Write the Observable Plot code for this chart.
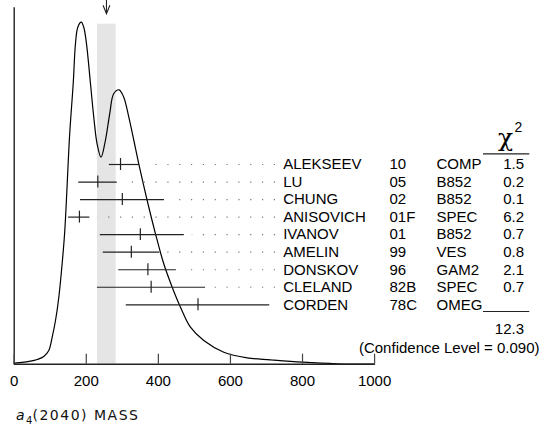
<!DOCTYPE html>
<html>
<head>
<meta charset="utf-8">
<script src="https://cdn.jsdelivr.net/npm/d3@7"></script>
<script src="https://cdn.jsdelivr.net/npm/@observablehq/plot@0.6"></script>
<style>
  body { margin: 0; background: #fff; }
  #wrap { position: relative; width: 546px; height: 429px; background: #fff; }
  #wrap svg { position: absolute; left: 0; top: 0; }
  #title { position: absolute; left: 16px; top: 407px; font-family: "DejaVu Sans", sans-serif;
           font-size: 14px; letter-spacing: 1.5px; color: #111; white-space: nowrap; line-height: 16px; }
  #title sub { font-size: 10px; vertical-align: -0.35em; line-height: 0; letter-spacing: 0; }
</style>
</head>
<body>
<div id="wrap"><div id="title"><i>a</i><sub>4</sub>(2040) MASS</div></div>
<script>
// ---------------- data ----------------
// ideogram curve (mass value, height in arbitrary units)
const curveMass    = [0, 45, 64, 82, 96, 105.4, 114.6, 123.8, 133, 140.4, 154, 163.7, 170, 176.5, 186, 193, 200.6, 211.7, 220.8, 230, 241, 253, 265, 276, 291, 304, 318, 332, 345.6, 369, 392, 415, 438.4, 461.4, 489, 526, 581.6, 646.5, 711, 800, 896, 1000];
const curveDensity = [1, 3, 4.7, 7.7, 13.7, 27, 43.7, 67, 100.4, 133.7, 230.4, 280.4, 320.4, 337, 342, 337, 320.4, 280.4, 247, 220.4, 207, 223.7, 250.4, 270.4, 274.4, 267, 247, 223.7, 200.4, 163.7, 130.4, 100.4, 77, 57, 37, 23.7, 12, 6.4, 4.4, 2, 0.4, 0];

// measurements
const names   = ["ALEKSEEV", "LU", "CHUNG", "ANISOVICH", "IVANOV", "AMELIN", "DONSKOV", "CLELAND", "CORDEN"];
const years   = ["10", "05", "02", "01F", "01", "99", "96", "82B", "78C"];
const methods = ["COMP", "B852", "B852", "SPEC", "B852", "VES", "GAM2", "SPEC", "OMEG"];
const values  = [295, 232, 300, 181, 350, 325, 371, 380, 510];
const errLo   = [264, 179, 184, 151, 239, 247, 290, 231, 311];
const errHi   = [348, 286, 417, 210, 472, 404, 450, 531, 709];
const chi2    = ["1.5", "0.2", "0.1", "6.2", "0.7", "0.8", "2.1", "0.7", ""];
const chi2Total = "12.3";
const confidenceLevel = "0.090";

// fitted value and its error band
const fitMass = 256, fitLo = 231, fitHi = 283;

// axis ticks
const xTicks = [0, 200, 400, 600, 800, 1000];

// ---------------- layout ----------------
const W = 546, H = 395, ML = 13.7, MR = 171.9, MB = 31.3;
const xDomain = [0, 1000];
const yTop = H - MB; // y units = pixels above the baseline
const baseStyle = { fontFamily: "'Liberation Sans', Arial, sans-serif", fontSize: "15px",
                    background: "transparent", overflow: "visible", color: "#000" };
const common = { width: W, height: H, marginLeft: ML, marginRight: MR, marginTop: 0, marginBottom: MB,
                 x: { domain: xDomain, axis: null }, style: baseStyle };
const xs = Plot.scale({ x: { domain: xDomain, range: [ML, W - MR] } });
const px = p => xs.invert(p);

const curve = curveMass.map((m, i) => ({ m, d: curveDensity[i] }));
const fit = [{ mass: fitMass, lo: fitLo, hi: fitHi }];
const bandTop = d3.max(curveDensity) - 2;

// open "V" arrowhead symbol (tip at the origin)
const vHead = { draw(ctx) { ctx.moveTo(-3.4, -8.5); ctx.lineTo(0, 0); ctx.lineTo(3.4, -8.5); } };

const p1 = Plot.plot({
  ...common,
  y: { domain: [0, yTop], axis: null },
  marks: [
    Plot.rect(fit, { x1: "lo", x2: "hi", y1: 0, y2: bandTop, fill: "#e5e5e5" }),
    Plot.line(curve, { x: "m", y: "d", curve: "catmull-rom", stroke: "#000", strokeWidth: 1.2 }),
    Plot.ruleX([0], { y1: 0, y2: yTop - 7.3, stroke: "#222", strokeWidth: 1.4 }),
    Plot.ruleY([0], { x1: 0, x2: 1000, stroke: "#222", strokeWidth: 1.4 }),
    Plot.ruleX(xTicks, { y1: 0, y2: 10, stroke: "#444", strokeWidth: 1.2 }),
    Plot.text(xTicks, { x: d => d, y: 0, dy: 16.5, text: d => String(d), fill: "#000" }),
    // fitted-value arrow at the top
    Plot.ruleX(fit, { x: "mass", y1: yTop, y2: yTop - 13.3, stroke: "#222", strokeWidth: 1.1 }),
    Plot.dot(fit, { x: "mass", y: yTop - 13.3, symbol: vHead, fill: "none", stroke: "#222", strokeWidth: 1.1 })
  ]
});

const rows = names.map((name, i) => ({ i, name, year: years[i], method: methods[i],
  value: values[i], lo: errLo[i], hi: errHi[i], chi: chi2[i] }));
const dotEnd = px(275);
const gapPx = 8;
const dotted = rows.filter(d => xs.apply(d.hi) + gapPx < 275);
const last = names.length - 1;

const p2 = Plot.plot({
  ...common,
  y: { domain: [0, last], range: [164, 304.3], axis: null },
  marks: [
    Plot.ruleY(dotted, { y: "i", x1: dotEnd, x2: d => px(xs.apply(d.hi) + gapPx),
                         stroke: "#777", strokeWidth: 1.2, strokeDasharray: "1.2,10.63" }),
    Plot.ruleY(rows, { y: "i", x1: "lo", x2: "hi", stroke: "#222", strokeWidth: 1.2 }),
    Plot.ruleX(rows, { x: "value", y1: d => d.i - 0.34, y2: d => d.i + 0.34, stroke: "#222", strokeWidth: 1.2 }),
    Plot.text(rows, { y: "i", frameAnchor: "left", dx: 269, text: "name", textAnchor: "start" }),
    Plot.text(rows, { y: "i", frameAnchor: "left", dx: 375.3, text: "year", textAnchor: "start" }),
    Plot.text(rows, { y: "i", frameAnchor: "left", dx: 422.3, text: "method", textAnchor: "start" }),
    Plot.text(rows, { y: "i", frameAnchor: "left", dx: 509.8, text: "chi", textAnchor: "end" }),
    // chi-squared header
    Plot.text(["χ"], { y: 0, frameAnchor: "left", dx: 491.3, dy: -19, lineAnchor: "bottom",
                       fontFamily: "'DejaVu Serif', serif", fontSize: 25, textAnchor: "middle" }),
    Plot.text(["2"], { y: 0, frameAnchor: "left", dx: 504.3, dy: -32.5, lineAnchor: "bottom",
                       fontSize: 14, textAnchor: "middle" }),
    Plot.ruleY([0], { x1: px(483), x2: px(529.3), dy: -10.7, stroke: "#222", strokeWidth: 1.2 }),
    Plot.ruleY([last], { x1: px(483), x2: px(529.3), dy: 6.7, stroke: "#222", strokeWidth: 1.2 }),
    Plot.text([chi2Total], { y: last, frameAnchor: "left", dx: 509.8, dy: 24, textAnchor: "end" }),
    Plot.text([`(Confidence Level = ${confidenceLevel})`], { y: last, frameAnchor: "left", dx: 525.3, dy: 43.4, textAnchor: "end" })
  ]
});

const wrap = document.getElementById("wrap");
wrap.appendChild(p1);
wrap.appendChild(p2);
</script>
</body>
</html>
